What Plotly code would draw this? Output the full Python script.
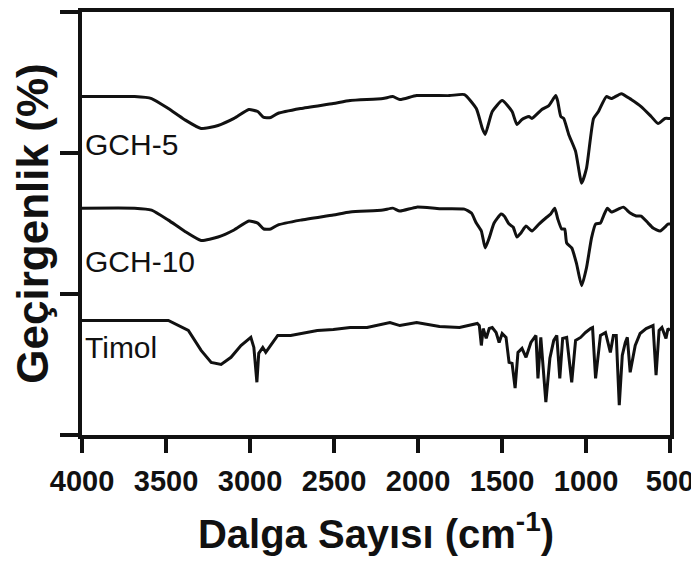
import plotly.graph_objects as go

# ---- data ----
gch5_x = [4000, 3687, 3586, 3486, 3391, 3291, 3190, 3095, 3007, 2954, 2918, 2877, 2835,
          2699, 2504, 2404, 2209, 2150, 2108, 2008, 1813, 1724, 1653, 1617, 1600, 1558,
          1499, 1440, 1411, 1381, 1340, 1322, 1263, 1221, 1180, 1168, 1150, 1133, 1103,
          1062, 1026, 997, 955, 926, 879, 849, 790, 731, 672, 612, 571, 530, 506, 500]
gch5_y = [2.400, 2.400, 2.386, 2.315, 2.238, 2.174, 2.195, 2.245, 2.308, 2.294, 2.252, 2.252, 2.280,
          2.315, 2.351, 2.372, 2.386, 2.400, 2.379, 2.407, 2.407, 2.414, 2.315, 2.174, 2.132, 2.294,
          2.372, 2.294, 2.202, 2.238, 2.259, 2.245, 2.308, 2.336, 2.407, 2.365, 2.259, 2.245, 2.132,
          2.012, 1.786, 1.892, 2.245, 2.294, 2.400, 2.386, 2.421, 2.379, 2.329, 2.259, 2.209, 2.245, 2.245, 2.245]

gch10_x = [4000, 3687, 3586, 3486, 3391, 3291, 3190, 3095, 3007, 2954, 2918, 2877, 2835,
           2699, 2504, 2404, 2209, 2150, 2108, 2008, 1872, 1724, 1682, 1653, 1623, 1600,
           1576, 1547, 1505, 1487, 1458, 1434, 1411, 1387, 1357, 1322, 1280, 1239, 1210,
           1186, 1168, 1145, 1127, 1115, 1085, 1056, 1026, 997, 967, 943, 914, 896, 873,
           849, 808, 778, 737, 701, 672, 630, 601, 559, 524, 512, 500]
gch10_y = [1.609, 1.609, 1.595, 1.524, 1.447, 1.380, 1.404, 1.454, 1.517, 1.503, 1.461, 1.461, 1.489,
           1.524, 1.560, 1.581, 1.595, 1.609, 1.588, 1.616, 1.605, 1.602, 1.574, 1.503, 1.447, 1.327,
           1.398, 1.503, 1.567, 1.553, 1.496, 1.475, 1.404, 1.433, 1.482, 1.447, 1.496, 1.539, 1.567,
           1.609, 1.532, 1.461, 1.461, 1.362, 1.327, 1.214, 1.059, 1.186, 1.398, 1.496, 1.503, 1.553, 1.609,
           1.581, 1.602, 1.616, 1.574, 1.553, 1.553, 1.503, 1.468, 1.447, 1.482, 1.496, 1.496]

timol_x = [4000, 3486, 3367, 3291, 3231, 3172, 3113, 3054, 2995, 2977, 2959, 2948, 2924, 2906,
           2877, 2835, 2758, 2699, 2599, 2504, 2404, 2303, 2167, 2108, 2008, 1872, 1753, 1647,
           1635, 1623, 1612, 1594, 1576, 1558, 1535, 1517, 1499, 1476, 1458, 1440, 1422, 1405,
           1381, 1357, 1328, 1298, 1286, 1269, 1239, 1215, 1192, 1174, 1156, 1139, 1115, 1085,
           1062, 1032, 1003, 973, 961, 943, 914, 884, 855, 837, 820, 802, 784, 766, 754, 737,
           707, 678, 642, 601, 583, 565, 548, 524, 512, 500]
timol_y = [0.812, 0.812, 0.741, 0.600, 0.515, 0.501, 0.551, 0.635, 0.692, 0.621, 0.374, 0.579, 0.621, 0.586,
           0.635, 0.706, 0.706, 0.720, 0.741, 0.748, 0.762, 0.762, 0.798, 0.776, 0.798, 0.769, 0.762, 0.791,
           0.776, 0.635, 0.755, 0.685, 0.755, 0.762, 0.727, 0.656, 0.720, 0.692, 0.515, 0.508, 0.332, 0.586,
           0.614, 0.551, 0.656, 0.706, 0.402, 0.692, 0.233, 0.544, 0.671, 0.706, 0.402, 0.685, 0.692, 0.374,
           0.671, 0.692, 0.727, 0.755, 0.762, 0.402, 0.706, 0.727, 0.586, 0.706, 0.706, 0.212, 0.565, 0.656,
           0.692, 0.445, 0.635, 0.720, 0.755, 0.776, 0.424, 0.741, 0.762, 0.685, 0.755, 0.741]

series_names = ["GCH-5", "GCH-10", "Timol"]
series_shapes = ["spline", "spline", "linear"]
label_y = [2.061, 1.228, 0.621]

x_ticks = [4000, 3500, 3000, 2500, 2000, 1500, 1000, 500]
y_ticks = [0, 1, 2, 3]

FONT = "Liberation Sans, Arial, Helvetica, sans-serif"

fig = go.Figure()
for name, shp, xs, ys in zip(series_names, series_shapes,
                             [gch5_x, gch10_x, timol_x], [gch5_y, gch10_y, timol_y]):
    fig.add_trace(go.Scatter(x=xs, y=ys, mode="lines", name=name,
                             line=dict(color="#111111", width=3, shape=shp, smoothing=0.5),
                             showlegend=False))

for name, ly in zip(series_names, label_y):
    fig.add_annotation(x=4000, y=ly, xref="x", yref="y", text=name, showarrow=False,
                       xanchor="left", yanchor="middle", xshift=1,
                       font=dict(family=FONT, size=30, color="#111111"))

# page body adds an 8px margin, so the figure is sized to fit the 699x574 window
fig.update_layout(
    width=691, height=566,
    margin=dict(l=74, r=29, t=4, b=139),
    paper_bgcolor="white", plot_bgcolor="white",
    font=dict(family=FONT, color="#111111"),
)
fig.update_xaxes(
    range=[4000, 500], tickvals=x_ticks, ticktext=[str(t) for t in x_ticks],
    ticks="outside", ticklen=14, tickwidth=4, tickcolor="#111111",
    showline=True, linewidth=4, linecolor="#111111", mirror=True,
    showgrid=False, zeroline=False, automargin=False,
    tickfont=dict(family=FONT, size=29, weight="bold", color="#111111"),
    ticklabelstandoff=3,
    title=dict(text="Dalga Sayısı (cm<sup>-1</sup>)", standoff=25,
               font=dict(family=FONT, size=40, weight="bold", color="#111111")),
)
fig.update_yaxes(
    range=[0, 3], tickvals=y_ticks, showticklabels=False,
    ticks="outside", ticklen=18, tickwidth=4, tickcolor="#111111",
    showline=True, linewidth=4, linecolor="#111111", mirror=True,
    showgrid=False, zeroline=False, automargin=False,
    title=dict(text="Geçirgenlik (%)", standoff=3,
               font=dict(family=FONT, size=44, weight="bold", color="#111111")),
)

fig.write_html("out.html")
